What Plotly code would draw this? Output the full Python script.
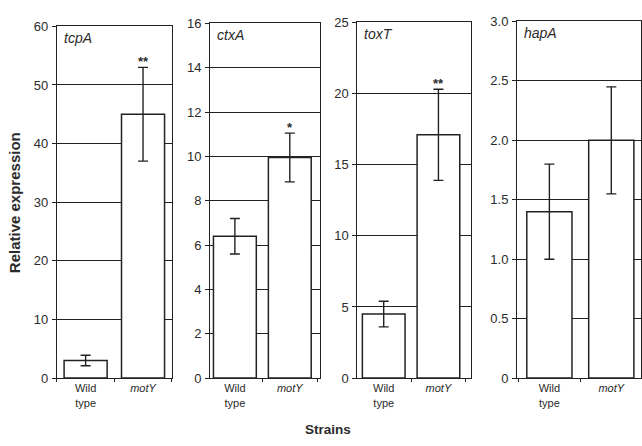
import plotly.graph_objects as go

strains = ["Wild<br>type", "<i>motY</i>"]
genes = ["tcpA", "ctxA", "toxT", "hapA"]
values = [[3.0, 45.0], [6.4, 9.95], [4.5, 17.1], [1.4, 2.0]]
errors = [[0.9, 8.0], [0.8, 1.1], [0.9, 3.2], [0.4, 0.45]]
signif = [["", "**"], ["", "*"], ["", "**"], ["", ""]]
y_max = [60, 16, 25, 3.0]
y_dtick = [10, 2, 5, 0.5]
hapA_ticks = [0, 0.5, 1.0, 1.5, 2.0, 2.5, 3.0]
hapA_ticktext = ["0", "0.5", "1.0", "1.5", "2.0", "2.5", "3.0"]

W, H = 642, 446
line_col = "#222222"
text_col = "#2b2b2b"
FONT = "Liberation Sans, Arial, sans-serif"

# pixel geometry of the panels
px_left = [57, 210.5, 358, 518]
px_right = [172, 320.5, 472, 642]
x_ranges = [[-0.5, 1.5], [-0.45, 1.55], [-0.48, 1.6], [-0.52, 1.48]]
bar_widths = [0.75, 0.78, 0.78, 0.73]
y_top_px = [20, 17, 16, 15]
y_bot_px = 384

fig = go.Figure()
layout = dict(
    width=W, height=H, margin=dict(l=0, r=0, t=0, b=0),
    paper_bgcolor="white", plot_bgcolor="white", showlegend=False,
    font=dict(family=FONT, color=text_col, size=12),
    bargap=0.25,
)
annotations = []

for i, g in enumerate(genes):
    n = "" if i == 0 else str(i + 1)
    xa, ya = "x" + n, "y" + n
    fig.add_trace(go.Bar(
        x=strains, y=values[i], xaxis=xa, yaxis=ya,
        width=bar_widths[i],
        marker=dict(color="white", line=dict(color=line_col, width=1.5)),
        error_y=dict(type="data", array=errors[i], color=line_col,
                     thickness=1.4, width=5),
        hoverinfo="skip",
    ))
    xdom = [px_left[i] / W, min(px_right[i] / W, 1.0)]
    ydom = [1 - y_bot_px / H, 1 - y_top_px[i] / H]
    layout["xaxis" + n] = dict(
        domain=xdom, anchor=ya, type="category", range=x_ranges[i],
        showline=True, linecolor=line_col, linewidth=1.3, mirror=True,
        ticks="outside", tickson="boundaries", ticklen=3, tickcolor=line_col,
        showgrid=False, tickfont=dict(size=11, color=text_col),
        fixedrange=True,
    )
    ydict = dict(
        domain=ydom, anchor=xa, range=[0, y_max[i]],
        showline=True, linecolor=line_col, linewidth=1.3, mirror=True,
        ticks="outside", ticklen=4, tickcolor=line_col,
        showgrid=True, gridcolor=line_col, gridwidth=1.3,
        zeroline=False, tickfont=dict(size=13, color=text_col),
        ticklabelstandoff=1,
        fixedrange=True,
    )
    if i == 3:
        ydict.update(tickmode="array", tickvals=hapA_ticks, ticktext=hapA_ticktext)
    else:
        ydict.update(tick0=0, dtick=y_dtick[i])
    layout["yaxis" + n] = ydict

    annotations.append(dict(
        text="<i>%s</i>" % g, xref=xa + " domain", yref=ya + " domain",
        x=0.04, y=0.995, xanchor="left", yanchor="top", showarrow=False,
        font=dict(size=14, color=text_col, family=FONT),
    ))
    for j, s in enumerate(signif[i]):
        if s:
            annotations.append(dict(
                text="<b>%s</b>" % s, xref=xa, yref=ya, x=strains[j],
                y=values[i][j] + errors[i][j], yanchor="bottom",
                showarrow=False, yshift=-4,
                font=dict(size=13, color=text_col, family=FONT),
            ))

annotations.append(dict(
    text="<b>Relative expression</b>", xref="paper", yref="paper",
    x=14 / W, y=1 - 202 / H, textangle=-90, showarrow=False,
    xanchor="center", yanchor="middle",
    font=dict(size=15, color=text_col, family=FONT),
))
annotations.append(dict(
    text="<b>Strains</b>", xref="paper", yref="paper",
    x=329 / W, y=1 - 437 / H, showarrow=False,
    xanchor="center", yanchor="middle",
    font=dict(size=13.5, color=text_col, family=FONT),
))
layout["annotations"] = annotations
fig.update_layout(**layout)
fig.write_html("out.html")
